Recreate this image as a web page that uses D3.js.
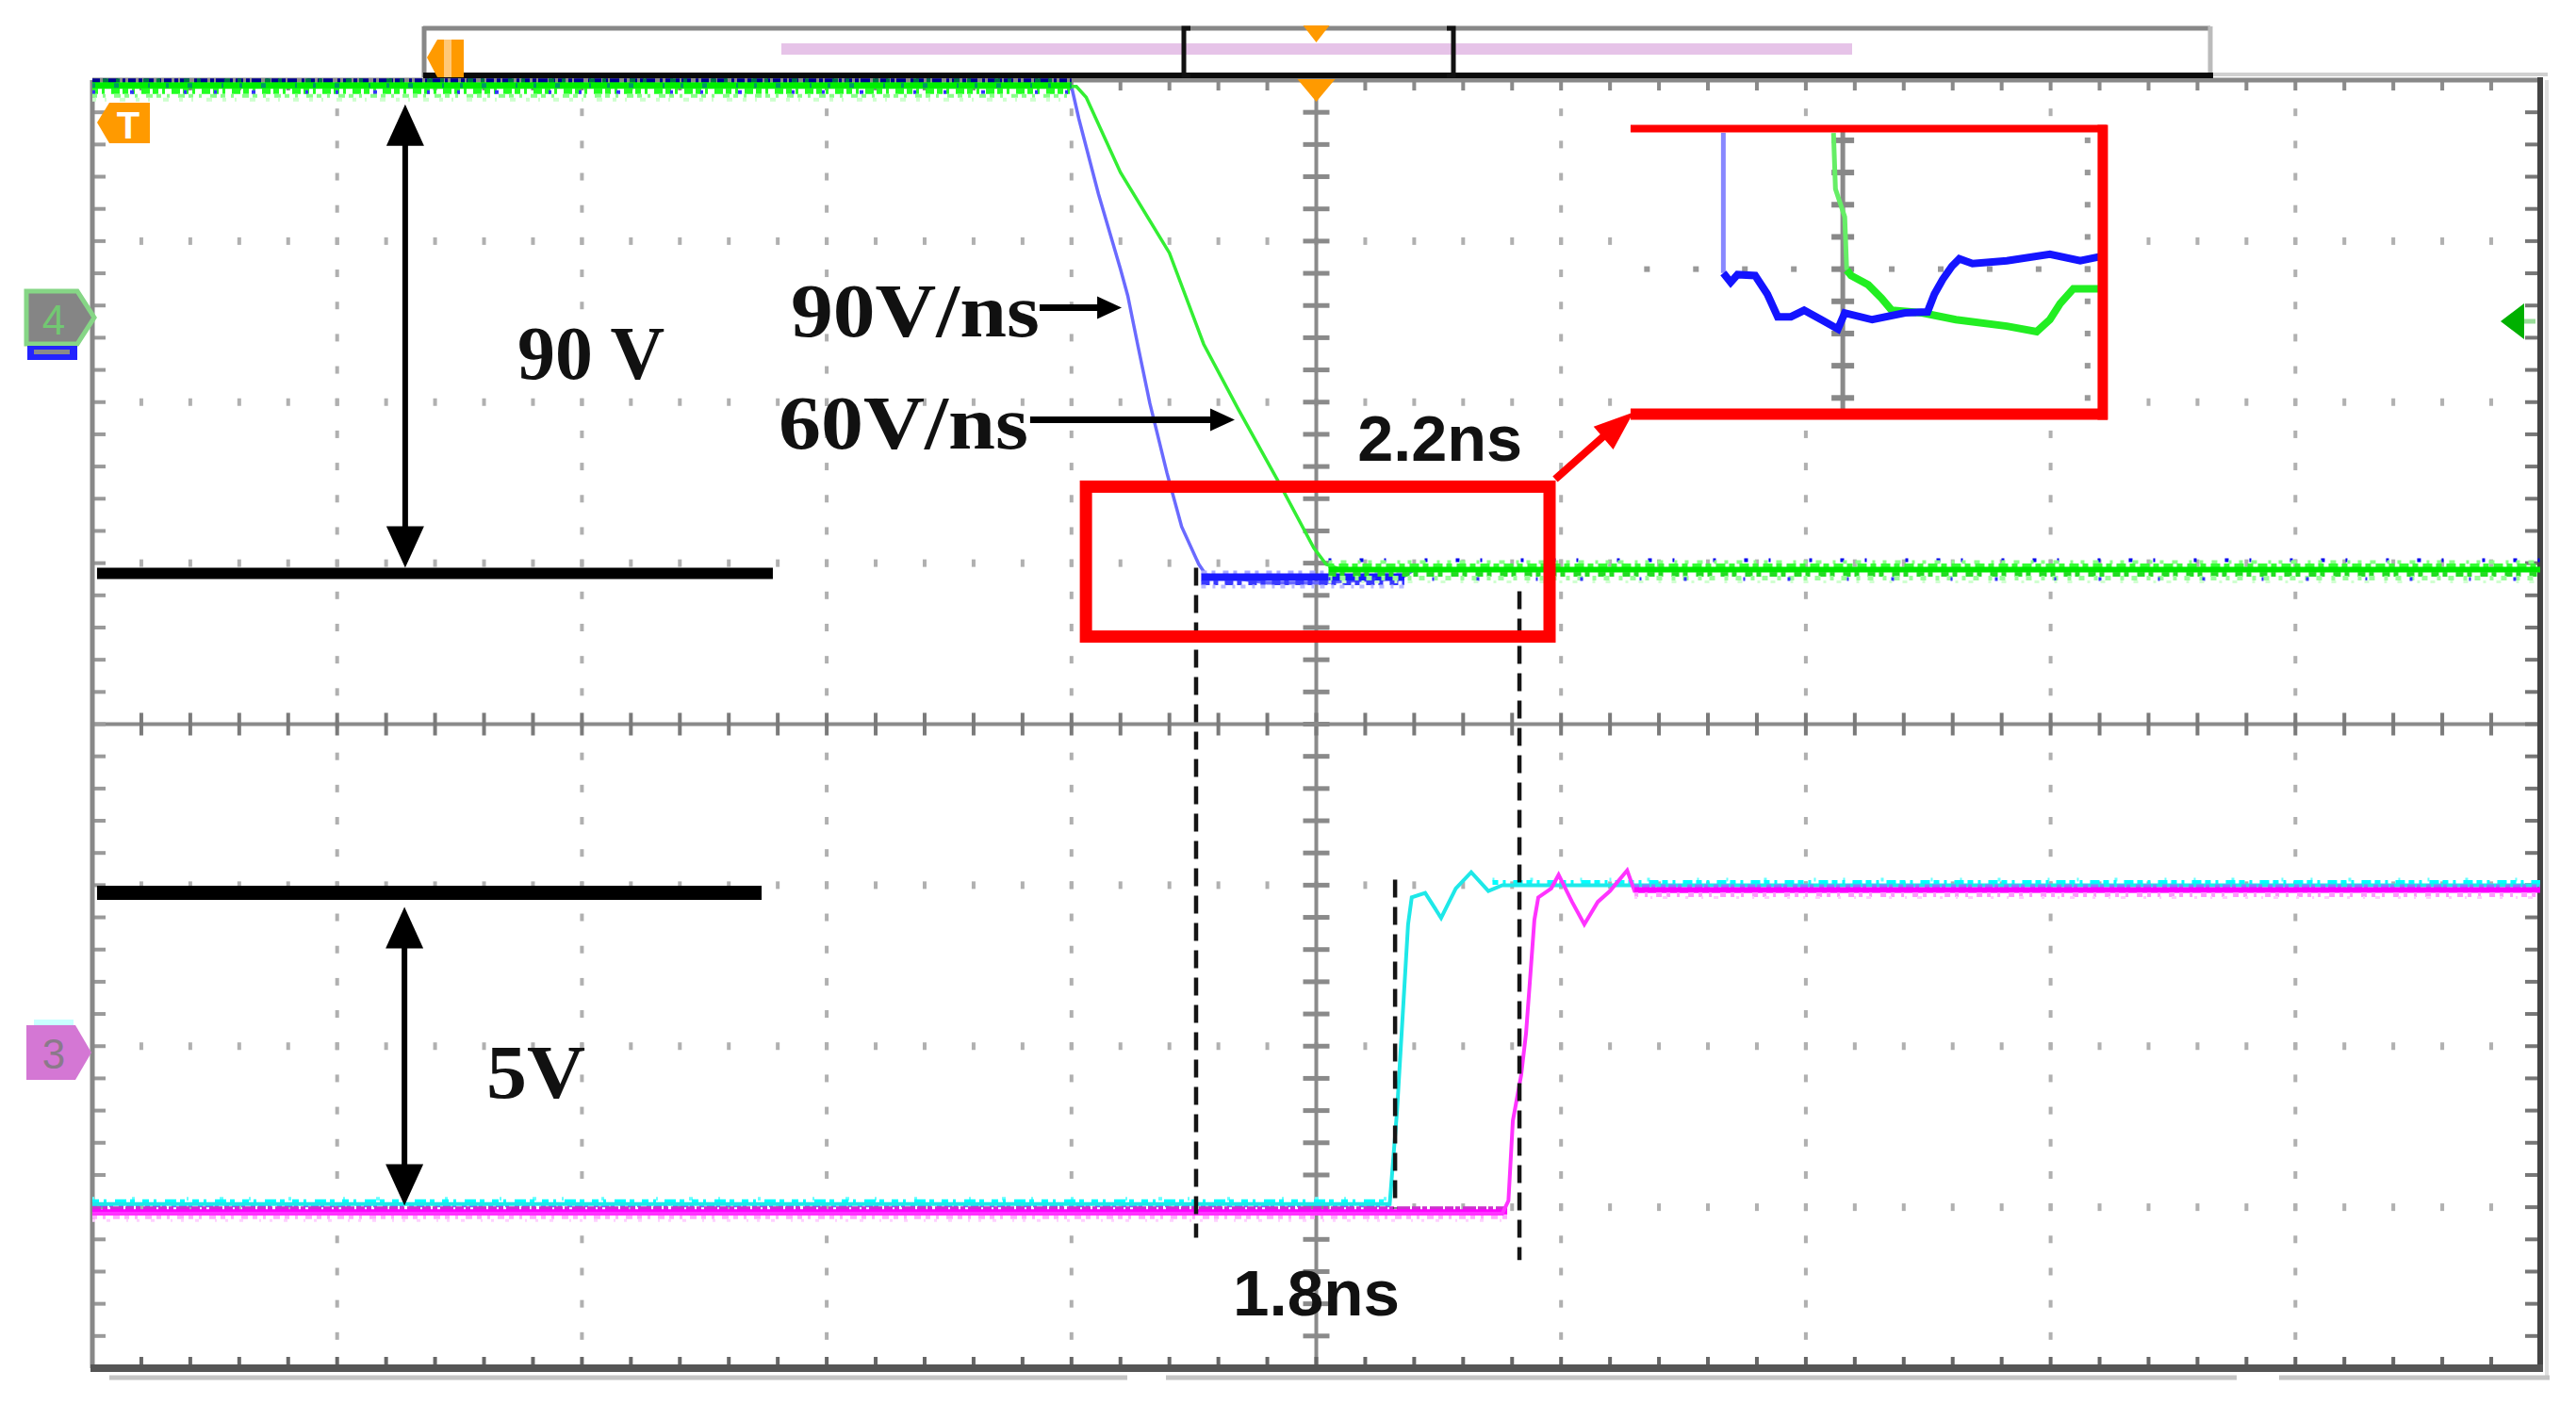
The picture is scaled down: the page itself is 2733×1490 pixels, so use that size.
<!DOCTYPE html>
<html><head><meta charset="utf-8">
<script src="https://cdn.jsdelivr.net/npm/d3@7/dist/d3.min.js"></script>
<style>html,body{margin:0;padding:0;background:#fff;} svg{display:block}</style>
</head><body>
<svg id="chart" width="2733" height="1490"></svg>
<script>
// ================= DATA =================
const timeDomain = [-5, 5];          // ns, 10 horizontal divisions
const divDomain = [-4, 4];           // 8 vertical divisions
const upperVoltRange = [0, 90];      // V  (drain voltages, 30 V/div)
const lowerVoltRange = [0, 5];       // V  (gate signals, 2.5 V/div)

// Blue trace : fast switching (90 V/ns)
const blueT = [-5, -1.00, -0.97, -0.89, -0.80, -0.77, -0.73, -0.68, -0.61, -0.55, -0.48, -0.45, -0.35, -0.20, 0.00, 0.20, 0.35, 0.40, 5];
const blueV = [90, 90, 84, 70, 56, 51, 42, 31, 18, 8, 1, -1, -1.5, -2.5, -2.5, -2, -1.5, 0, 0];
// Green trace : slower switching (60 V/ns)
const greenT = [-5, -0.98, -0.94, -0.80, -0.60, -0.46, -0.32, -0.15, -0.01, 0.04, 0.10, 5];
const greenV = [90, 90, 88, 74, 59, 42, 30, 16, 4, 1, 0, 0];
// Cyan trace : gate signal 1
const cyanT = [-5, 0.30, 0.33, 0.375, 0.39, 0.445, 0.51, 0.57, 0.633, 0.703, 0.76, 5];
const cyanV = [0.05, 0.05, 1.5, 4.39, 4.81, 4.88, 4.49, 4.95, 5.2, 4.91, 5.0, 5.0];
// Magenta trace : gate signal 2
const magentaT = [-5, 0.76, 0.785, 0.803, 0.837, 0.857, 0.872, 0.891, 0.907, 0.96, 0.99, 1.045, 1.095, 1.15, 1.20, 1.27, 1.30, 5];
const magentaV = [-0.1, -0.1, 0.1, 1.34, 2.05, 2.7, 3.47, 4.46, 4.81, 4.95, 5.16, 4.74, 4.39, 4.74, 4.91, 5.23, 4.91, 4.92];

// Zoomed inset (inset units)
const insetBlueT = [-2.44, -2.44, -2.29, -2.15, -1.79, -1.54, -1.33, -1.06, -0.79, -0.44, -0.10, 0.04, 0.60, 1.27, 1.73, 1.87, 2.04, 2.23, 2.38, 2.65, 3.35, 4.23, 4.85, 5.23];
const insetBlueV = [4.23, -0.12, -0.41, -0.17, -0.20, -0.78, -1.48, -1.48, -1.28, -1.57, -1.86, -1.36, -1.57, -1.36, -1.33, -0.78, -0.32, 0.09, 0.32, 0.17, 0.26, 0.46, 0.26, 0.38];
const insetGreenT = [-0.19, -0.15, 0.04, 0.08, 0.17, 0.52, 0.79, 1.00, 1.62, 2.31, 3.35, 3.96, 4.23, 4.44, 4.71, 5.23];
const insetGreenV = [4.23, 2.49, 1.62, -0.03, -0.20, -0.49, -0.90, -1.28, -1.36, -1.57, -1.77, -1.94, -1.57, -1.07, -0.61, -0.61];

// Noise band spans: [tStart, tEnd, level]
const upperHighSpan = [-5, -1.0, 90];
const greenLowSpan = [0.05, 5, 0];
const blueLowSpan = [-0.47, 0.36, -1.6];
const cyanLowSpan = [-5, 0.30, 0];
const magentaLowSpan = [-5, 0.78, 0];
const cyanHighSpan = [0.72, 5, 5];
const magentaHighSpan = [1.30, 5, 5];

// Text
const labelTexts = ["90 V", "90V/ns", "60V/ns", "2.2ns", "1.8ns", "5V"];
const channelLabels = ["4", "3", "T"];

// ================= DRAWING =================
const svg = d3.select("#chart");
svg.append("rect").attr("width", 2733).attr("height", 1490).attr("fill", "#fff");

const L = 98, R = 2695, T = 85, B = 1452;
const sx = d3.scaleLinear().domain([0, 10]).range([L, R]);      // screen divisions
const sy = d3.scaleLinear().domain(divDomain).range([B, T]);
const x = d3.scaleLinear().domain(timeDomain).range([L, R]);
const yU = d3.scaleLinear().domain(upperVoltRange).range([sy(0.96), sy(3.96)]);
const yLo = d3.scaleLinear().domain(lowerVoltRange).range([sy(-3.0), sy(-1.0)]);

const minorX = d3.range(1, 50).map(k => k * 0.2);
const minorY = d3.range(1, 40).map(k => -4 + k * 0.2);

// ---- grid dots ----
const grid = svg.append("g");
[1, 2, 3, 4, 6, 7, 8, 9].forEach(i => {
  grid.selectAll(null).data(minorY).join("rect")
    .attr("x", sx(i) - 2).attr("y", d => sy(d) - 4).attr("width", 4).attr("height", 8).attr("fill", "#b0b0b0");
});
[-3, -2, -1, 1, 2, 3].forEach(j => {
  grid.selectAll(null).data(minorX).join("rect")
    .attr("x", d => sx(d) - 2).attr("y", sy(j) - 4).attr("width", 4).attr("height", 8).attr("fill", "#b0b0b0");
});
// center axes
grid.append("line").attr("x1", sx(5)).attr("x2", sx(5)).attr("y1", T).attr("y2", B).attr("stroke", "#8a8a8a").attr("stroke-width", 4);
grid.append("line").attr("x1", L).attr("x2", R).attr("y1", sy(0)).attr("y2", sy(0)).attr("stroke", "#8a8a8a").attr("stroke-width", 4);
grid.selectAll(null).data(minorX).join("rect")
  .attr("x", d => sx(d) - 2).attr("y", sy(0) - 12).attr("width", 4).attr("height", 24).attr("fill", "#7a7a7a");
grid.selectAll(null).data(minorY).join("rect")
  .attr("x", sx(5) - 14).attr("y", d => sy(d) - 2.5).attr("width", 28).attr("height", 5).attr("fill", "#8a8a8a");
// border ticks
grid.selectAll(null).data(minorX).join("rect")
  .attr("x", d => sx(d) - 2).attr("y", T).attr("width", 4).attr("height", 11).attr("fill", "#8a8a8a");
grid.selectAll(null).data(minorX).join("rect")
  .attr("x", d => sx(d) - 2).attr("y", B - 12).attr("width", 4).attr("height", 12).attr("fill", "#666");
grid.selectAll(null).data(minorY).join("rect")
  .attr("x", L).attr("y", d => sy(d) - 2).attr("width", 14).attr("height", 4).attr("fill", "#9a9a9a");
grid.selectAll(null).data(minorY).join("rect")
  .attr("x", R - 16).attr("y", d => sy(d) - 2).attr("width", 16).attr("height", 4).attr("fill", "#777");

// frame
grid.append("line").attr("x1", L).attr("x2", L).attr("y1", T).attr("y2", B).attr("stroke", "#888").attr("stroke-width", 5);
grid.append("line").attr("x1", L).attr("x2", R).attr("y1", T).attr("y2", T).attr("stroke", "#888").attr("stroke-width", 5);
grid.append("line").attr("x1", R).attr("x2", R).attr("y1", T - 3).attr("y2", B + 3).attr("stroke", "#444").attr("stroke-width", 6);
grid.append("line").attr("x1", L - 2).attr("x2", R + 3).attr("y1", B).attr("y2", B).attr("stroke", "#555").attr("stroke-width", 8);
grid.append("line").attr("x1", R + 7).attr("x2", R + 7).attr("y1", T).attr("y2", B + 8).attr("stroke", "#e0e0e0").attr("stroke-width", 4);
[[116, 1196], [1237, 2373], [2418, 2705]].forEach(s => {
  grid.append("line").attr("x1", s[0]).attr("x2", s[1]).attr("y1", B + 10).attr("y2", B + 10).attr("stroke", "#c4c4c4").attr("stroke-width", 5);
});
grid.append("line").attr("x1", 2345).attr("x2", R + 8).attr("y1", T - 6).attr("y2", T - 6).attr("stroke", "#d0d0d0").attr("stroke-width", 4);

// ---- header bar ----
const hdr = svg.append("g");
hdr.append("rect").attr("x", 829).attr("y", 46).attr("width", 1965 - 829).attr("height", 12).attr("fill", "#e6c3e8");
hdr.append("line").attr("x1", 449).attr("x2", 2345).attr("y1", 30).attr("y2", 30).attr("stroke", "#888").attr("stroke-width", 5);
hdr.append("line").attr("x1", 450).attr("x2", 450).attr("y1", 28).attr("y2", 82).attr("stroke", "#888").attr("stroke-width", 5);
hdr.append("line").attr("x1", 2345).attr("x2", 2345).attr("y1", 28).attr("y2", 82).attr("stroke", "#bbb").attr("stroke-width", 5);
hdr.append("line").attr("x1", 449).attr("x2", 2348).attr("y1", 80).attr("y2", 80).attr("stroke", "#0a0a0a").attr("stroke-width", 6);
hdr.append("path").attr("d", "M1263,30 H1256 V80 H1263").attr("fill", "none").attr("stroke", "#111").attr("stroke-width", 5);
hdr.append("path").attr("d", "M1535,30 H1542 V80 H1535").attr("fill", "none").attr("stroke", "#111").attr("stroke-width", 5);

// orange markers
const orange = "#ff9a00";
hdr.append("path").attr("d", "M453,61 L464,42 L492,42 L492,82 L464,82 Z").attr("fill", orange);
hdr.append("rect").attr("x", 471).attr("y", 42).attr("width", 8).attr("height", 40).attr("fill", "#ffc878");
hdr.append("path").attr("d", `M${sx(5) - 14},27 L${sx(5) + 14},27 L${sx(5)},45 Z`).attr("fill", orange);
hdr.append("path").attr("d", `M${sx(5) - 20},84 L${sx(5) + 20},84 L${sx(5)},108 Z`).attr("fill", orange);
hdr.append("path").attr("d", "M103,130 L116,109 L159,109 L159,152 L116,152 Z").attr("fill", orange);
hdr.append("text").attr("x", 136).attr("y", 147).attr("text-anchor", "middle")
  .attr("font-family", "Liberation Sans, Arial, sans-serif").attr("font-weight", "bold").attr("font-size", 40).attr("fill", "#fff").text(channelLabels[2]);

// channel markers (left)
hdr.append("path").attr("d", "M28,309 H82 L100,337 L82,365 H28 Z").attr("fill", "#858585").attr("stroke", "#86d686").attr("stroke-width", 5);
hdr.append("text").attr("x", 57).attr("y", 355).attr("text-anchor", "middle")
  .attr("font-family", "Liberation Sans, Arial, sans-serif").attr("font-size", 44).attr("fill", "#72c872").text(channelLabels[0]);
hdr.append("rect").attr("x", 29).attr("y", 367).attr("width", 53).attr("height", 15).attr("fill", "#2323ff");
hdr.append("rect").attr("x", 36).attr("y", 371).attr("width", 38).attr("height", 5).attr("fill", "#8a8a8a");
hdr.append("rect").attr("x", 36).attr("y", 1082).attr("width", 42).attr("height", 6).attr("fill", "#c8ffff");
hdr.append("path").attr("d", "M28,1088 H80 L97,1117 L80,1146 H28 Z").attr("fill", "#d477d4");
hdr.append("text").attr("x", 57).attr("y", 1134).attr("text-anchor", "middle")
  .attr("font-family", "Liberation Sans, Arial, sans-serif").attr("font-size", 44).attr("fill", "#8a7a8a").text(channelLabels[1]);
// right green marker
hdr.append("path").attr("d", "M2653,341 L2678,322 L2678,360 Z").attr("fill", "#00b000");
hdr.append("line").attr("x1", 2678).attr("x2", 2690).attr("y1", 341).attr("y2", 341).attr("stroke", "#99dd99").attr("stroke-width", 5);

// ---- traces ----
const tr = svg.append("g");
const lineU = d3.line().x(d => x(d[0])).y(d => yU(d[1]));
const lineL = d3.line().x(d => x(d[0])).y(d => yLo(d[1]));
const zip = (a, b) => a.map((v, i) => [v, b[i]]);

function band(scaleY, span, layers) {
  layers.forEach(ly => {
    tr.append("line")
      .attr("x1", x(span[0])).attr("x2", x(span[1]))
      .attr("y1", scaleY(span[2]) + ly.dy).attr("y2", scaleY(span[2]) + ly.dy)
      .attr("stroke", ly.c).attr("stroke-width", ly.w)
      .attr("stroke-dasharray", ly.d || null).attr("opacity", ly.o || 1);
  });
}

// lower channel bands
band(yLo, cyanLowSpan, [
  { dy: -9, c: "#66ffff", w: 4, d: "2 40 3 55 2 33 4 27" },
  { dy: -6, c: "#00ffff", w: 5, d: "7 5 3 9 12 4 5 8" },
  { dy: -2, c: "#7a6aff", w: 4, d: "5 3 8 2 4 6" }
]);
band(yLo, magentaLowSpan, [
  { dy: 1, c: "#cc33cc", w: 4, d: "9 2 5 3 14 2" },
  { dy: 5, c: "#ff00ff", w: 6 },
  { dy: 10, c: "#ffaaff", w: 5, d: "5 6 3 8 7 5" },
  { dy: 14, c: "#ffd0ff", w: 3, d: "3 12 4 17 2 9" }
]);
band(yLo, cyanHighSpan, [
  { dy: -6, c: "#66ffff", w: 4, d: "2 38 3 50 2 29" },
  { dy: -3, c: "#00ffff", w: 5, d: "6 5 3 8 10 4" }
]);
tr.append("path").datum(zip(cyanT, cyanV)).attr("d", lineL).attr("fill", "none").attr("stroke", "#1ee8e8").attr("stroke-width", 4);
tr.append("path").datum(zip(magentaT, magentaV)).attr("d", lineL).attr("fill", "none").attr("stroke", "#ff33ff").attr("stroke-width", 4);
band(yLo, magentaHighSpan, [
  { dy: 1, c: "#8a78ff", w: 4, d: "5 3 8 2 4 6" },
  { dy: 5, c: "#ff00ff", w: 6 },
  { dy: 10, c: "#ff99ff", w: 5, d: "4 7 3 9 6 5" },
  { dy: 13, c: "#ffccff", w: 3, d: "3 14 2 11 5 19" }
]);

// upper channel
tr.append("path").datum(zip(blueT, blueV)).attr("d", lineU).attr("fill", "none").attr("stroke", "#6a6aff").attr("stroke-width", 3.5);
tr.append("path").datum(zip(greenT, greenV)).attr("d", lineU).attr("fill", "none").attr("stroke", "#33ee33").attr("stroke-width", 3.5);
band(yU, upperHighSpan, [
  { dy: -6, c: "#000090", w: 5, d: "8 3 4 2 10 5 3 3" },
  { dy: -6, c: "#00704a", w: 5, d: "0 11 6 8 4 14" },
  { dy: -1, c: "#00ee00", w: 7 },
  { dy: -1, c: "#009966", w: 5, d: "3 20 5 31 2 17" },
  { dy: 5, c: "#22ff22", w: 6, d: "6 4 3 7 9 3" },
  { dy: 6, c: "#3333ff", w: 4, d: "3 37 4 53 3 29" },
  { dy: 10, c: "#88ff88", w: 4, d: "5 6 3 9 7 4" },
  { dy: 14, c: "#ccffcc", w: 4, d: "4 9 2 14 6 11" }
]);
band(yU, blueLowSpan, [
  { dy: -6, c: "#aaaaff", w: 4, d: "6 5 4 8" },
  { dy: -1, c: "#1a1aff", w: 8 },
  { dy: 5, c: "#3a3aff", w: 5, d: "9 4 5 7" },
  { dy: 9, c: "#bbbbff", w: 4, d: "5 7 3 6" }
]);
band(yU, greenLowSpan, [
  { dy: -10, c: "#0000ee", w: 4, d: "3 30 4 22 2 41" },
  { dy: -8, c: "#88ff88", w: 4, d: "4 9 6 12 3 8" },
  { dy: -4, c: "#33ff33", w: 5, d: "6 5 10 4" },
  { dy: 0, c: "#00e600", w: 6 },
  { dy: 5, c: "#22dd22", w: 5, d: "8 4 5 9" },
  { dy: 9, c: "#99ff99", w: 5, d: "4 8 6 10" },
  { dy: 10, c: "#3333ff", w: 4, d: "2 45 3 60" },
  { dy: 13, c: "#d0ffd0", w: 3, d: "3 11 5 16" }
]);

// ---- annotations ----
const an = svg.append("g");
const serif = "Liberation Serif, Times New Roman, serif";
const sans = "Liberation Sans, Arial, sans-serif";
function arrowHead(g, tx, ty, dx, dy, len, hw, color) {
  const n = Math.hypot(dx, dy); dx /= n; dy /= n;
  const bx = tx - dx * len, by = ty - dy * len;
  g.append("path").attr("d", `M${tx},${ty} L${bx - dy * hw},${by + dx * hw} L${bx + dy * hw},${by - dx * hw} Z`).attr("fill", color);
}
// horizontal reference bars
an.append("line").attr("x1", sx(0.019)).attr("x2", sx(2.78)).attr("y1", sy(0.936)).attr("y2", sy(0.936)).attr("stroke", "#000").attr("stroke-width", 12);
an.append("line").attr("x1", sx(0.019)).attr("x2", sx(2.734)).attr("y1", sy(-1.047)).attr("y2", sy(-1.047)).attr("stroke", "#000").attr("stroke-width", 15);
// double arrows
function dblArrow(xd, y1d, y2d) {
  an.append("line").attr("x1", sx(xd)).attr("x2", sx(xd)).attr("y1", sy(y1d) + 30).attr("y2", sy(y2d) - 30).attr("stroke", "#000").attr("stroke-width", 6);
  arrowHead(an, sx(xd), sy(y1d), 0, -1, 44, 20, "#000");
  arrowHead(an, sx(xd), sy(y2d), 0, 1, 44, 20, "#000");
}
dblArrow(1.278, 3.85, 0.971);
dblArrow(1.275, -1.135, -2.99);
// slope arrows
an.append("line").attr("x1", sx(3.87)).attr("x2", sx(4.15)).attr("y1", sy(2.586)).attr("y2", sy(2.586)).attr("stroke", "#000").attr("stroke-width", 7);
arrowHead(an, sx(4.205), sy(2.586), 1, 0, 26, 12, "#000");
an.append("line").attr("x1", sx(3.831)).attr("x2", sx(4.61)).attr("y1", sy(1.89)).attr("y2", sy(1.89)).attr("stroke", "#000").attr("stroke-width", 7);
arrowHead(an, sx(4.667), sy(1.89), 1, 0, 26, 12, "#000");
// dashed markers
[[4.509, 0.971, -3.189], [5.83, 0.825, -3.329], [5.322, -0.965, -3.008]].forEach(d => {
  an.append("line").attr("x1", sx(d[0])).attr("x2", sx(d[0])).attr("y1", sy(d[1])).attr("y2", sy(d[2]))
    .attr("stroke", "#151515").attr("stroke-width", 4.5).attr("stroke-dasharray", "19 10");
});
// red box
const red = "#ff0000";
an.append("rect").attr("x", sx(4.059)).attr("y", sy(1.475)).attr("width", sx(5.953) - sx(4.059)).attr("height", sy(0.544) - sy(1.475))
  .attr("fill", "none").attr("stroke", red).attr("stroke-width", 13);

// inset
const ix = d3.scaleLinear().domain([0, 5]).range([sx(7.151), sx(8.151)]);
const iy = d3.scaleLinear().domain([0, 5]).range([sy(2.826), sy(3.826)]);
const ins = svg.append("g");
ins.append("rect").attr("x", sx(6.284)).attr("y", sy(3.698)).attr("width", sx(8.213) - sx(6.284)).attr("height", sy(1.925) - sy(3.698)).attr("fill", "#fff");
ins.selectAll(null).data(d3.range(-4, 6)).join("rect")
  .attr("x", d => ix(d) - 3).attr("y", iy(0) - 3).attr("width", 6).attr("height", 6).attr("fill", "#999");
ins.selectAll(null).data(d3.range(-4, 5)).join("rect")
  .attr("x", ix(5) - 3).attr("y", d => iy(d) - 3).attr("width", 6).attr("height", 6).attr("fill", "#999");
ins.append("line").attr("x1", ix(0)).attr("x2", ix(0)).attr("y1", sy(3.68)).attr("y2", sy(1.94)).attr("stroke", "#8a8a8a").attr("stroke-width", 5);
ins.selectAll(null).data(d3.range(-4, 5)).join("rect")
  .attr("x", ix(0) - 12).attr("y", d => iy(d) - 3).attr("width", 24).attr("height", 6).attr("fill", "#888");
const lineI = d3.line().x(d => ix(d[0])).y(d => iy(d[1]));
const ib = zip(insetBlueT, insetBlueV), ig = zip(insetGreenT, insetGreenV);
ins.append("path").datum(ib.slice(0, 2)).attr("d", lineI).attr("fill", "none").attr("stroke", "#8888ff").attr("stroke-width", 5);
ins.append("path").datum(ig.slice(0, 4)).attr("d", lineI).attr("fill", "none").attr("stroke", "#66ee66").attr("stroke-width", 5);
ins.append("path").datum(ig.slice(3)).attr("d", lineI).attr("fill", "none").attr("stroke", "#22ee22").attr("stroke-width", 8);
ins.append("path").datum(ib.slice(1)).attr("d", lineI).attr("fill", "none").attr("stroke", "#1414ff").attr("stroke-width", 8);
// inset bracket (drawn above the inset background)
ins.append("line").attr("x1", sx(6.284)).attr("x2", sx(8.213) + 4).attr("y1", sy(3.698)).attr("y2", sy(3.698)).attr("stroke", red).attr("stroke-width", 8);
ins.append("line").attr("x1", sx(8.213)).attr("x2", sx(8.213)).attr("y1", sy(3.698) - 4).attr("y2", sy(1.925) + 6).attr("stroke", red).attr("stroke-width", 11);
ins.append("line").attr("x1", sx(6.284)).attr("x2", sx(8.213) + 5).attr("y1", sy(1.925)).attr("y2", sy(1.925)).attr("stroke", red).attr("stroke-width", 12);
// red arrow
ins.append("line").attr("x1", sx(5.976)).attr("y1", sy(1.521)).attr("x2", sx(6.22)).attr("y2", sy(1.85)).attr("stroke", red).attr("stroke-width", 8);
arrowHead(ins, sx(6.296), sy(1.937), sx(6.296) - sx(5.976), sy(1.937) - sy(1.521), 42, 16, red);

// labels
const lab = svg.append("g");
function label(t, xd, yd, font, size, len) {
  lab.append("text").attr("x", sx(xd)).attr("y", sy(yd)).attr("font-family", font).attr("font-weight", "bold")
    .attr("font-size", size).attr("fill", "#111").attr("textLength", len).attr("lengthAdjust", "spacingAndGlyphs").text(t);
}
label(labelTexts[0], 1.737, 2.147, serif, 80, 156);
label(labelTexts[1], 2.853, 2.411, serif, 80, 264);
label(labelTexts[2], 2.803, 1.709, serif, 80, 265);
label(labelTexts[3], 5.168, 1.633, sans, 68, 175);
label(labelTexts[4], 4.659, -3.675, sans, 68, 177);
label(labelTexts[5], 1.610, -2.323, serif, 80, 105);
</script>
</body></html>
